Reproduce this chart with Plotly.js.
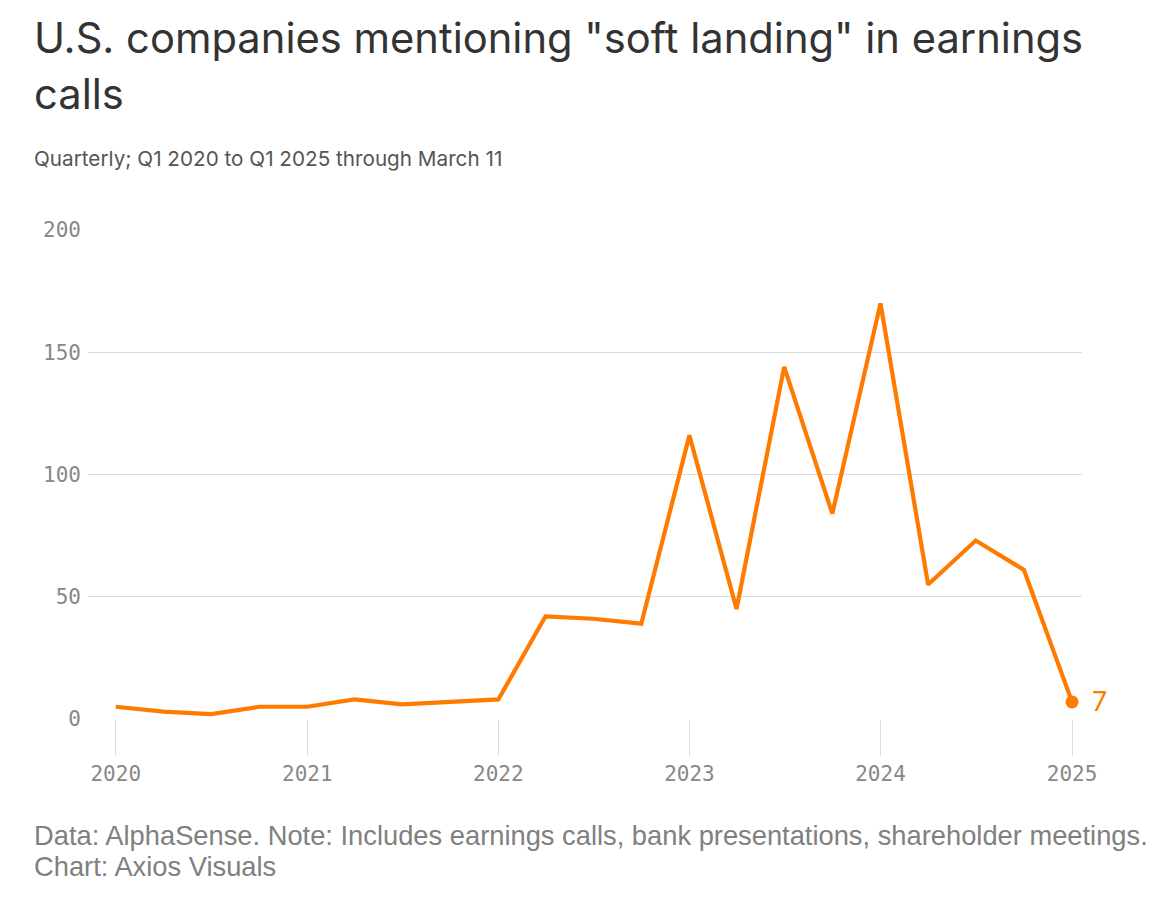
<!DOCTYPE html>
<html>
<head>
<meta charset="utf-8">
<script src="https://cdn.plot.ly/plotly-3.0.1.min.js"></script>
<style>
  html, body { margin: 0; padding: 0; background: #fff; }
  #chart { width: 1158px; height: 902px; }
</style>
</head>
<body>
<div id="chart"></div>
<script>
// quarterly counts, Q1 2020 .. Q1 2025 (through March 11)
var quarters = [
  '2020-01-01', '2020-04-01', '2020-07-01', '2020-10-01',
  '2021-01-01', '2021-04-01', '2021-07-01', '2021-10-01',
  '2022-01-01', '2022-04-01', '2022-07-01', '2022-10-01',
  '2023-01-01', '2023-04-01', '2023-07-01', '2023-10-01',
  '2024-01-01', '2024-04-01', '2024-07-01', '2024-10-01',
  '2025-01-01'
]
var mentions = [
  5, 3, 2, 5,
  5, 8, 6, 7,
  8, 42, 41, 39,
  116, 45, 144, 84,
  170, 55, 73, 61,
  7
]
var yTicks = [0, 50, 100, 150, 200]

var titleLines = ['U.S. companies mentioning "soft landing" in earnings', 'calls']
var subtitleText = 'Quarterly; Q1 2020 to Q1 2025 through March 11'
var footerLines = [
  'Data: AlphaSense. Note: Includes earnings calls, bank presentations, shareholder meetings.',
  'Chart: Axios Visuals'
]

var W = 1158, H = 902
var M = { l: 88, r: 76, t: 230, b: 183 }
// page pixels -> paper coords, for the texts around the plot
function px(x) { return (x - M.l) / (W - M.l - M.r) }
function py(y) { return (H - M.b - y) / (H - M.t - M.b) }

var orange = '#ff7b00'
var sans = 'Inter, "Noto Sans", sans-serif'
var mono = '"DejaVu Sans Mono", "Liberation Mono", monospace'
var last = mentions.length - 1

var lineTrace = {
  x: quarters,
  y: mentions,
  type: 'scatter',
  mode: 'lines',
  line: { color: orange, width: 4.2 },
  cliponaxis: false,
  hoverinfo: 'x+y'
}
// dot on the latest quarter
var endTrace = {
  x: [quarters[last]],
  y: [mentions[last]],
  type: 'scatter',
  mode: 'markers',
  marker: { color: orange, size: 13 },
  cliponaxis: false,
  hoverinfo: 'skip'
}

function textNote(text, x, y, size, color, family) {
  return {
    text: text,
    xref: 'paper', yref: 'paper',
    x: px(x), y: py(y),
    xanchor: 'left', yanchor: 'middle',
    align: 'left',
    showarrow: false,
    borderpad: 0,
    font: { family: family, size: size, color: color }
  }
}

var annotations = [
  textNote(titleLines[0], 33, 38, 41.7, '#333', sans),
  textNote(titleLines[1], 33, 94, 41.7, '#333', sans),
  textNote(subtitleText, 33, 158, 20.7, '#555', sans),
  textNote(footerLines[0], 33, 835, 27.3, '#808080', '"Liberation Sans", Arial, sans-serif'),
  textNote(footerLines[1], 33, 867, 27.3, '#808080', '"Liberation Sans", Arial, sans-serif'),
  {
    // value label beside the end dot
    text: String(mentions[last]),
    x: quarters[last], y: mentions[last],
    xanchor: 'left', yanchor: 'middle',
    xshift: 18,
    showarrow: false,
    font: { family: sans, size: 27, color: orange }
  }
]

var layout = {
  width: W,
  height: H,
  paper_bgcolor: '#fff',
  plot_bgcolor: '#fff',
  showlegend: false,
  margin: M,
  font: { family: sans, color: '#333' },
  xaxis: {
    type: 'date',
    range: ['2019-11-09', '2025-01-20'],
    tickmode: 'array',
    tickvals: quarters.filter(function (q) { return q.slice(5) === '01-01' }),
    tickformat: '%Y',
    showgrid: false,
    zeroline: false,
    showline: false,
    ticks: 'outside',
    ticklen: 36,
    tickwidth: 1,
    tickcolor: '#dcdcdc',
    tickfont: { family: mono, size: 21, color: '#888' },
    fixedrange: true
  },
  yaxis: {
    range: [0, 200],
    tickvals: yTicks,
    showgrid: true,
    gridcolor: '#dcdcdc',
    gridwidth: 1,
    zeroline: false,
    showline: false,
    ticks: '',
    ticklabelstandoff: 6,
    tickfont: { family: mono, size: 21, color: '#888' },
    fixedrange: true
  },
  annotations: annotations
}

Plotly.newPlot('chart', [lineTrace, endTrace], layout, { displayModeBar: false, staticPlot: true })
</script>
</body>
</html>
